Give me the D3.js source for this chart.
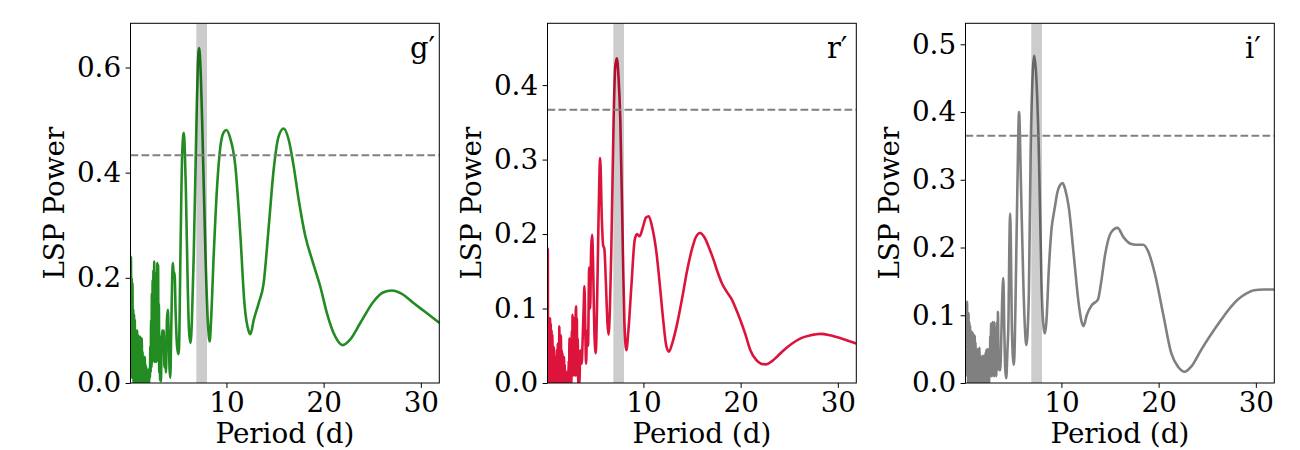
<!DOCTYPE html>
<html>
<head>
<meta charset="utf-8">
<script src="https://cdn.jsdelivr.net/npm/d3@7"></script>
<style>
  html, body { margin: 0; padding: 0; background: #fff; }
  svg { display: block; }
  text { font-family: "DejaVu Serif", serif; fill: #000; }
</style>
</head>
<body>
<svg id="chart" width="1300" height="450"></svg>
<script>
// ---------- DATA ----------
const bandNames = ["g′", "r′", "i′"];
const bandColors = ["#228B22", "#DC143C", "#808080"];
const periodRange = [0.13, 31.9];
const highlightBand = [6.9, 8.0];
const thresholds = [0.433, 0.367, 0.365];
const yMax = [0.684, 0.483, 0.531];
const yTicks = [[0, 0.2, 0.4, 0.6], [0, 0.1, 0.2, 0.3, 0.4], [0, 0.1, 0.2, 0.3, 0.4, 0.5]];
const xTicks = [10, 20, 30];

const gPeriod = [0.15,0.18,0.21,0.25,0.29,0.33,0.37,0.41,0.45,0.49,0.53,0.57,0.61,0.65,0.69,0.73,0.77,0.81,0.85,0.89,0.93,0.97,1.01,1.05,1.09,1.13,1.17,1.21,1.25,1.29,1.33,1.37,1.41,1.45,1.49,1.53,1.57,1.61,1.65,1.69,1.73,1.77,1.81,1.85,1.89,1.93,1.97,2.01,2.05,2.09,2.13,2.17,2.21,2.25,2.29,2.33,2.37,2.41,2.45,2.49,2.53,2.57,2.61,2.65,2.69,2.73,2.77,2.81,2.85,2.89,2.93,2.97,3.01,3.05,3.09,3.13,3.17,3.21,3.26,3.32,3.40,3.48,3.55,3.62,3.70,3.78,3.88,3.97,4.05,4.14,4.22,4.32,4.42,4.50,4.58,4.66,4.78,4.92,5.05,5.12,5.27,5.45,5.61,5.72,5.82,6.02,6.15,6.30,6.45,6.64,6.92,7.05,7.19,7.33,7.50,7.84,8.08,8.28,8.42,8.70,9.04,9.38,9.70,10.0,10.35,10.92,11.44,11.85,12.3,12.47,12.81,13.32,13.83,14.35,14.86,15.37,15.89,16.4,16.92,17.43,18.12,18.8,19.66,20.35,21.2,21.95,22.7,23.77,25.14,26.1,27.03,28.0,29.25,30.6,31.92];
const gPower = [0.05,0.24,0.02,0.20,0.01,0.19,0.03,0.14,0.00,0.13,0.02,0.12,0.00,0.10,0.01,0.09,0.00,0.10,0.02,0.08,0.00,0.09,0.01,0.085,0.00,0.088,0.02,0.07,0.00,0.085,0.01,0.06,0.00,0.05,0.01,0.045,0.00,0.05,0.005,0.035,0.00,0.03,0.005,0.025,0.00,0.02,0.00,0.025,0.00,0.03,0.01,0.07,0.02,0.12,0.03,0.17,0.04,0.196,0.05,0.215,0.06,0.231,0.04,0.20,0.05,0.19,0.04,0.21,0.06,0.228,0.05,0.225,0.04,0.15,0.02,0.09,0.005,0.04,0.003,0.06,0.10,0.06,0.10,0.03,0.05,0.02,0.12,0.139,0.10,0.03,0.01,0.10,0.20,0.228,0.20,0.21,0.13,0.07,0.055,0.065,0.247,0.4375,0.476,0.44,0.374,0.183,0.10,0.076,0.12,0.247,0.501,0.60,0.637,0.60,0.50,0.247,0.12,0.079,0.12,0.247,0.374,0.45,0.476,0.481,0.468,0.412,0.279,0.152,0.098,0.093,0.12,0.152,0.19,0.297,0.406,0.469,0.484,0.463,0.412,0.349,0.279,0.235,0.183,0.132,0.088,0.072,0.082,0.114,0.155,0.172,0.176,0.170,0.152,0.133,0.114];

const rPeriod = [0.13,0.16,0.19,0.23,0.27,0.31,0.35,0.39,0.43,0.47,0.51,0.55,0.59,0.63,0.67,0.71,0.75,0.79,0.83,0.87,0.91,0.95,0.99,1.03,1.07,1.11,1.15,1.19,1.23,1.27,1.31,1.35,1.39,1.43,1.47,1.51,1.55,1.59,1.63,1.67,1.71,1.75,1.79,1.83,1.87,1.91,1.95,1.99,2.03,2.07,2.11,2.15,2.19,2.23,2.27,2.31,2.35,2.39,2.43,2.47,2.51,2.55,2.59,2.63,2.67,2.71,2.75,2.79,2.83,2.87,2.91,2.95,2.99,3.03,3.07,3.11,3.15,3.19,3.24,3.29,3.34,3.41,3.51,3.58,3.65,3.75,3.85,3.93,4.02,4.10,4.20,4.30,4.42,4.52,4.62,4.72,4.82,4.95,5.10,5.22,5.38,5.55,5.72,5.85,5.98,6.15,6.30,6.41,6.55,6.69,6.93,7.10,7.27,7.44,7.62,7.89,8.05,8.24,8.45,8.76,9.10,9.34,9.60,9.96,10.25,10.55,10.85,11.34,11.7,12.03,12.35,12.62,13.0,13.41,14.0,14.45,15.0,15.4,15.82,16.3,16.8,17.2,17.6,18.07,18.6,19.1,19.5,19.96,20.5,21.0,21.6,22.1,22.62,23.2,23.8,24.44,25.3,26.17,27.2,28.24,29.2,30.3,31.2,31.9];
const rPower = [0.05,0.181,0.01,0.087,0.00,0.085,0.01,0.087,0.00,0.08,0.01,0.071,0.00,0.065,0.005,0.05,0.00,0.048,0.005,0.036,0.00,0.03,0.00,0.035,0.005,0.045,0.00,0.053,0.01,0.04,0.00,0.076,0.01,0.05,0.00,0.064,0.01,0.045,0.00,0.04,0.005,0.03,0.00,0.035,0.00,0.025,0.00,0.015,0.00,0.01,0.00,0.015,0.00,0.012,0.00,0.03,0.005,0.06,0.01,0.04,0.00,0.02,0.00,0.07,0.01,0.0915,0.02,0.08,0.01,0.087,0.02,0.07,0.01,0.095,0.103,0.02,0.087,0.01,0.06,0.00,0.03,0.00,0.044,0.03,0.026,0.06,0.10,0.13,0.07,0.026,0.07,0.05,0.155,0.10,0.18,0.199,0.16,0.07,0.04,0.10,0.22,0.302,0.22,0.185,0.18,0.13,0.08,0.065,0.10,0.175,0.354,0.425,0.436,0.41,0.354,0.175,0.08,0.044,0.07,0.13,0.192,0.200,0.197,0.21,0.222,0.224,0.212,0.175,0.13,0.085,0.05,0.042,0.055,0.076,0.115,0.148,0.18,0.196,0.2015,0.195,0.18,0.166,0.15,0.134,0.122,0.112,0.10,0.085,0.065,0.044,0.031,0.026,0.025,0.029,0.036,0.044,0.053,0.060,0.064,0.066,0.064,0.060,0.056,0.053];

const iPeriod = [0.26,0.29,0.32,0.36,0.40,0.44,0.48,0.52,0.56,0.60,0.64,0.68,0.72,0.76,0.80,0.84,0.88,0.92,0.96,1.00,1.04,1.08,1.12,1.16,1.20,1.24,1.28,1.32,1.36,1.40,1.44,1.48,1.52,1.56,1.60,1.64,1.68,1.72,1.76,1.80,1.84,1.88,1.92,1.96,2.00,2.04,2.08,2.12,2.16,2.20,2.24,2.28,2.32,2.36,2.40,2.44,2.48,2.52,2.56,2.60,2.64,2.68,2.72,2.76,2.80,2.84,2.88,2.92,2.96,3.00,3.04,3.08,3.12,3.16,3.20,3.25,3.30,3.36,3.42,3.47,3.52,3.60,3.70,3.80,3.90,4.02,4.12,4.22,4.32,4.45,4.55,4.64,4.72,4.80,4.89,5.0,5.1,5.2,5.30,5.47,5.64,5.84,6.09,6.25,6.39,6.5,6.66,6.83,7.05,7.20,7.40,7.68,7.96,8.12,8.29,8.45,8.70,9.0,9.21,9.35,9.56,9.85,10.13,10.4,10.75,11.26,11.77,12.05,12.28,12.6,13.13,13.75,14.1,14.5,15.1,15.76,16.4,17.05,17.7,18.41,18.9,19.6,20.45,21.3,22.0,22.67,23.4,24.38,25.4,26.42,27.3,28.12,29.0,29.83,30.8,31.9];
const iPower = [0.05,0.12,0.01,0.10,0.00,0.103,0.02,0.09,0.00,0.085,0.01,0.078,0.00,0.07,0.01,0.075,0.00,0.073,0.02,0.065,0.00,0.07,0.01,0.06,0.00,0.049,0.01,0.045,0.00,0.05,0.01,0.045,0.00,0.052,0.01,0.04,0.00,0.039,0.005,0.035,0.00,0.04,0.005,0.038,0.00,0.04,0.01,0.035,0.00,0.045,0.01,0.049,0.00,0.045,0.01,0.05,0.005,0.04,0.00,0.05,0.01,0.07,0.02,0.088,0.01,0.085,0.02,0.09,0.01,0.088,0.02,0.09,0.01,0.07,0.02,0.08,0.01,0.09,0.02,0.105,0.04,0.02,0.019,0.06,0.12,0.155,0.08,0.02,0.007,0.05,0.092,0.20,0.25,0.20,0.092,0.04,0.027,0.06,0.142,0.29,0.40,0.29,0.142,0.08,0.056,0.07,0.142,0.339,0.46,0.483,0.455,0.339,0.142,0.09,0.073,0.09,0.167,0.23,0.25,0.262,0.28,0.292,0.295,0.285,0.26,0.19,0.118,0.092,0.084,0.1,0.115,0.123,0.15,0.19,0.222,0.229,0.215,0.206,0.204,0.204,0.195,0.162,0.103,0.044,0.024,0.0167,0.025,0.049,0.072,0.093,0.11,0.123,0.132,0.137,0.138,0.138];

const periods = [gPeriod, rPeriod, iPeriod];
const powers = [gPower, rPower, iPower];

// ---------- LAYOUT ----------
const svg = d3.select("#chart");
const panelLeft = [130.5, 547.5, 965.5];
const panelWidth = 308.8;
const plotTop = 23.3, plotBottom = 383;
const tickFont = 27.8;
const defs = svg.append("defs");

panelLeft.forEach((left, k) => {
  const x = d3.scaleLinear().domain(periodRange).range([left, left + panelWidth]);
  const y = d3.scaleLinear().domain([0, yMax[k]]).range([plotBottom, plotTop]);
  const g = svg.append("g");

  const clipId = "clip" + k;
  defs.append("clipPath").attr("id", clipId)
    .append("rect").attr("x", left).attr("y", plotTop)
    .attr("width", panelWidth).attr("height", plotBottom - plotTop);

  const data = periods[k].map((p, i) => [p, powers[k][i]]);
  const line = d3.line().x(d => x(d[0])).y(d => y(d[1])).curve(d3.curveMonotoneX);

  const plot = g.append("g").attr("clip-path", `url(#${clipId})`);
  plot.append("path").datum(data)
    .attr("d", line)
    .attr("fill", "none")
    .attr("stroke", bandColors[k])
    .attr("stroke-width", 2.6)
    .attr("stroke-linejoin", "round");

  // highlighted band (drawn over the curve, translucent black)
  plot.append("rect")
    .attr("x", x(highlightBand[0]))
    .attr("width", x(highlightBand[1]) - x(highlightBand[0]))
    .attr("y", plotTop).attr("height", plotBottom - plotTop)
    .attr("fill", "#000").attr("fill-opacity", 0.2);

  // threshold line
  plot.append("line")
    .attr("x1", left).attr("x2", left + panelWidth)
    .attr("y1", y(thresholds[k])).attr("y2", y(thresholds[k]))
    .attr("stroke", "#808080").attr("stroke-width", 1.9)
    .attr("stroke-dasharray", "7.7,3.3");

  // axes
  const xAxis = d3.axisBottom(x).tickValues(xTicks).tickSize(4.9).tickPadding(4.5).tickFormat(d3.format("d"));
  const yAxis = d3.axisLeft(y).tickValues(yTicks[k]).tickSize(4.9).tickPadding(4.5).tickFormat(d3.format(".1f"));
  const gx = g.append("g").attr("transform", `translate(0,${plotBottom})`).call(xAxis);
  const gy = g.append("g").attr("transform", `translate(${left},0)`).call(yAxis);
  [gx, gy].forEach(a => {
    a.select(".domain").remove();
    a.selectAll("line").attr("stroke", "#000").attr("stroke-width", 1);
    a.selectAll("text").attr("font-family", "DejaVu Serif").attr("font-size", tickFont).attr("fill", "#000");
  });

  // frame
  g.append("rect").attr("x", left).attr("y", plotTop)
    .attr("width", panelWidth).attr("height", plotBottom - plotTop)
    .attr("fill", "none").attr("stroke", "#000").attr("stroke-width", 1);

  // labels
  g.append("text")
    .attr("x", left + panelWidth / 2).attr("y", 443)
    .attr("text-anchor", "middle").attr("font-size", tickFont)
    .text("Period (d)");
  g.append("text")
    .attr("transform", `translate(${left - 67},${(plotTop + plotBottom) / 2}) rotate(-90)`)
    .attr("text-anchor", "middle").attr("font-size", tickFont)
    .text("LSP Power");
  g.append("text")
    .attr("x", left + 0.905 * panelWidth).attr("y", 58)
    .attr("text-anchor", "start").attr("font-size", 29)
    .text(bandNames[k]);
});
</script>
</body>
</html>
